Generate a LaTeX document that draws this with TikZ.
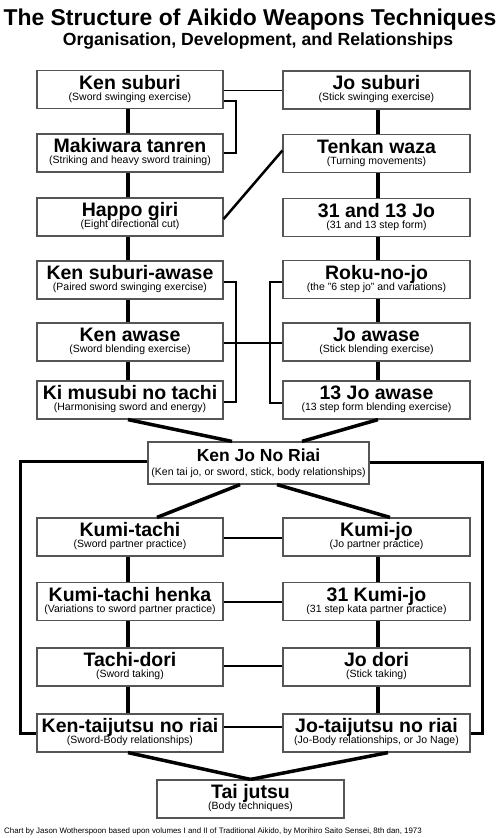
\documentclass[tikz,border=0pt]{standalone}
\usepackage{fontspec}
\setmainfont{Liberation Sans}
\definecolor{boxgray}{HTML}{555555}
\newcommand\wbx[5]{%
  \node[wbox, minimum width=#2] (#1) at (#3) {};
  \node[ttl] (#1-t) at ([yshift=-19.3pt]#1.north) {#4};
  \node[sub] (#1-s) at ([yshift=-30.3pt]#1.north) {#5};}
\begin{document}
\begin{tikzpicture}[x=1pt,y=-1pt,
  wbox/.style={draw=boxgray, line width=1.2pt, fill=white, minimum height=38pt, inner sep=0pt},
  ttl/.style={anchor=base, inner sep=0pt, font=\bfseries\fontsize{19.5}{20}\selectfont},
  sub/.style={anchor=base, inner sep=0pt, font=\fontsize{10.5}{12}\selectfont},
  vthick/.style={line width=3.5pt},
  mid/.style={line width=2.5pt},
  thin/.style={line width=1.6pt},
]
\useasboundingbox (0,0) rectangle (500,838);
\coordinate (lx) at (128,0);
\coordinate (rx) at (378,0);
\coordinate (rx2) at (388,0);
\coordinate (tbx) at (236,0);
\coordinate (lbx) at (235.5,0);
\coordinate (rbx) at (270,0);
\coordinate (olx) at (20,0);
\coordinate (orx) at (482,0);

\node[anchor=base, inner sep=0pt, font=\bfseries\fontsize{22.9}{24}\selectfont] (title) at (250,25) {The Structure of Aikido Weapons Techniques};
\node[anchor=base, inner sep=0pt, font=\bfseries\fontsize{17.6}{20}\selectfont] (subtitle) at (258,45) {Organisation, Development, and Relationships};

\wbx{ks}{186pt}{130,89.5}{Ken suburi}{(Sword swinging exercise)}
\wbx{js}{187pt}{376.5,90}{Jo suburi}{(Stick swinging exercise)}
\wbx{mt}{186pt}{130,153}{Makiwara tanren}{(Striking and heavy sword training)}
\wbx{tw}{187pt}{376.5,153.5}{Tenkan waza}{(Turning movements)}
\wbx{hg}{186pt}{130,217}{Happo giri}{(Eight directional cut)}
\wbx{jo31}{187pt}{376.5,217.5}{31 and 13 Jo}{(31 and 13 step form)}
\wbx{ksa}{186pt}{130,280}{Ken suburi-awase}{(Paired sword swinging exercise)}
\wbx{rnj}{187pt}{376.5,279.5}{Roku-no-jo}{(the "6 step jo" and variations)}
\wbx{ka}{186pt}{130,342}{Ken awase}{(Sword blending exercise)}
\wbx{ja}{187pt}{376.5,342}{Jo awase}{(Stick blending exercise)}
\wbx{kmt}{186pt}{130,400}{Ki musubi no tachi}{(Harmonising sword and energy)}
\wbx{j13}{187pt}{376.5,400}{13 Jo awase}{(13 step form blending exercise)}

\node[wbox, minimum width=221pt, minimum height=42pt] (kjr) at (258.5,463) {};
\node[anchor=base, inner sep=0pt, font=\bfseries\fontsize{17.5}{20}\selectfont] (kjr-t) at ([yshift=-20.5pt]kjr.north) {Ken Jo No Riai};
\node[sub] (kjr-s) at ([yshift=-34.5pt]kjr.north) {(Ken tai jo, or sword, stick, body relationships)};

\wbx{kt}{186pt}{130,537}{Kumi-tachi}{(Sword partner practice)}
\wbx{kj}{187pt}{376.5,537}{Kumi-jo}{(Jo partner practice)}
\wbx{kth}{186pt}{130,601.5}{Kumi-tachi henka}{(Variations to sword partner practice)}
\wbx{k31}{187pt}{376.5,601.5}{31 Kumi-jo}{(31 step kata partner practice)}
\wbx{td}{186pt}{130,667}{Tachi-dori}{(Sword taking)}
\wbx{jd}{187pt}{376.5,667}{Jo dori}{(Stick taking)}
\wbx{ktr}{186pt}{130,733}{Ken-taijutsu no riai}{(Sword-Body relationships)}
\wbx{jtr}{187pt}{376.5,733}{Jo-taijutsu no riai}{(Jo-Body relationships, or Jo Nage)}
\wbx{tj}{187pt}{250.5,799}{Tai jutsu}{(Body techniques)}

\node[anchor=base west, inner sep=0pt, font=\fontsize{7.9}{9}\selectfont] (foot) at (4,833) {Chart by Jason Wotherspoon based upon volumes I and II of Traditional Aikido, by Morihiro Saito Sensei, 8th dan, 1973};

% vertical chains
\foreach \a/\b in {ks/mt, mt/hg, hg/ksa, ksa/ka, ka/kmt, kt/kth, kth/td, td/ktr}
  \draw[vthick] (\a.south -| lx) -- (\b.north -| lx);
\foreach \a/\b in {js/tw, tw/jo31, jo31/rnj, rnj/ja, ja/j13, kj/k31, k31/jd, jd/jtr}
  \draw[vthick] (\a.south -| rx) -- (\b.north -| rx);

% top links
\draw[thin] ([yshift=-1pt]ks.east) -- ([yshift=-1pt]ks.east -| js.west);
\draw[line width=2.8pt] ([yshift=-11.5pt]ks.east) -- ([yshift=-11.5pt]ks.east -| tbx) -- (mt.east -| tbx) -- (mt.east);
\draw[mid] ([yshift=3pt]tw.west) -- ([yshift=-2pt]hg.east);

% middle brackets
\draw[line width=2pt] ([yshift=-2pt]ksa.east) -- ([yshift=-2pt]ksa.east -| lbx) -- ([yshift=-2pt]kmt.east -| lbx) -- ([yshift=-2pt]kmt.east);
\draw[line width=2pt] ([yshift=-2.5pt]rnj.west) -- ([yshift=-2.5pt]rnj.west -| rbx) -- ([yshift=-2.5pt]j13.west -| rbx) -- ([yshift=-2.5pt]j13.west);
\draw[line width=2pt] ([yshift=-1pt]ka.east) -- ([yshift=-1pt]ka.east -| ja.west);

% to Ken Jo No Riai
\draw[vthick] (kmt.south -| lx) -- ([xshift=-26.5pt]kjr.north);
\draw[vthick] (j13.south -| rx) -- ([xshift=43.5pt]kjr.north);
\draw[vthick] ([xshift=-18.5pt]kjr.south) -- ([xshift=27pt]kt.north);
\draw[vthick] ([xshift=18.5pt]kjr.south) -- ([xshift=13.5pt]kj.north);

% outer loop
\draw[line width=3pt] ([yshift=2pt]kjr.west) -- ([yshift=2pt]kjr.west -| olx) -- (ktr.west -| olx) -- (ktr.west);
\draw[line width=3pt] ([yshift=1pt]kjr.east) -- ([yshift=1pt]kjr.east -| orx) -- (jtr.east -| orx) -- (jtr.east);

% lower horizontals
\draw[thin] ([yshift=-1pt]kt.east) -- ([yshift=-1pt]kt.east -| kj.west);
\draw[mid] ([yshift=-0.5pt]kth.east) -- ([yshift=-0.5pt]kth.east -| k31.west);
\draw[mid] ([yshift=1pt]td.east) -- ([yshift=1pt]td.east -| jd.west);
\draw[mid] ([yshift=6pt]ktr.east) -- ([yshift=6pt]ktr.east -| jtr.west);

% to Tai jutsu
\draw[vthick] (ktr.south -| lx) -- (tj.north);
\draw[vthick] (jtr.south -| rx2) -- (tj.north);
\end{tikzpicture}
\end{document}
